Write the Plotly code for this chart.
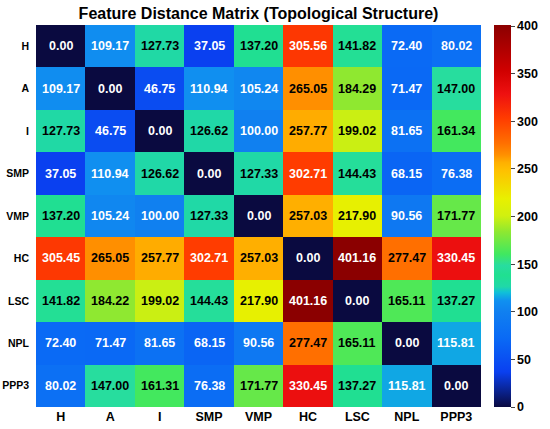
import plotly.graph_objects as go

labels = ["H", "A", "I", "SMP", "VMP", "HC", "LSC", "NPL", "PPP3"]

row_H = [0.00, 109.17, 127.73, 37.05, 137.20, 305.56, 141.82, 72.40, 80.02]
row_A = [109.17, 0.00, 46.75, 110.94, 105.24, 265.05, 184.29, 71.47, 147.00]
row_I = [127.73, 46.75, 0.00, 126.62, 100.00, 257.77, 199.02, 81.65, 161.34]
row_SMP = [37.05, 110.94, 126.62, 0.00, 127.33, 302.71, 144.43, 68.15, 76.38]
row_VMP = [137.20, 105.24, 100.00, 127.33, 0.00, 257.03, 217.90, 90.56, 171.77]
row_HC = [305.45, 265.05, 257.77, 302.71, 257.03, 0.00, 401.16, 277.47, 330.45]
row_LSC = [141.82, 184.22, 199.02, 144.43, 217.90, 401.16, 0.00, 165.11, 137.27]
row_NPL = [72.40, 71.47, 81.65, 68.15, 90.56, 277.47, 165.11, 0.00, 115.81]
row_PPP3 = [80.02, 147.00, 161.31, 76.38, 171.77, 330.45, 137.27, 115.81, 0.00]

z = [row_H, row_A, row_I, row_SMP, row_VMP, row_HC, row_LSC, row_NPL, row_PPP3]
zmax = max(max(r) for r in z)

# hand tuned jet-like scale (dark navy -> blue -> green -> yellow -> red -> dark red)
cscale = [
    [0.0, "#0a0a40"],
    [0.092, "#0a40f0"],
    [0.18, "#0a6af5"],
    [0.25, "#1080f0"],
    [0.278, "#1090f0"],
    [0.30, "#10c0d8"],
    [0.315, "#20d8a8"],
    [0.345, "#20e090"],
    [0.37, "#28dca0"],
    [0.40, "#40e860"],
    [0.46, "#90e830"],
    [0.50, "#d0f010"],
    [0.545, "#e8f000"],
    [0.62, "#ffc000"],
    [0.64, "#ffb000"],
    [0.66, "#ff9000"],
    [0.69, "#ff7000"],
    [0.755, "#ff3c00"],
    [0.82, "#ee1010"],
    [0.88, "#d00000"],
    [1.0, "#8b0000"],
]

bold12 = dict(family="Liberation Sans", size=12.5, color="black", weight="bold")
ybold = dict(family="Liberation Sans", size=10.5, color="black", weight="bold")

fig = go.Figure(go.Heatmap(
    z=z, x=labels, y=labels,
    zmin=0, zmax=zmax,
    colorscale=cscale,
    showscale=True,
    hoverinfo="skip",
    colorbar=dict(
        thickness=17, len=1, lenmode="fraction", y=0.5, yanchor="middle",
        x=1.029, xanchor="left", xpad=0, ypad=0,
        outlinewidth=0, ticks="outside", ticklen=4,
        tickvals=[0, 50, 100, 150, 200, 250, 300, 350, 400],
        tickfont=bold12,
    ),
))

for i, row in enumerate(z):
    for j, v in enumerate(row):
        col = "white" if (v < 120 or v > 290) else "black"
        fig.add_annotation(x=labels[j], y=labels[i], text=f"{v:.2f}", showarrow=False,
                           font=dict(family="Liberation Sans", size=12.5, color=col, weight="bold"))

fig.update_layout(
    width=550, height=429,
    margin=dict(l=36, r=66, t=25, b=22),
    paper_bgcolor="white", plot_bgcolor="white",
    title=dict(text="<b>Feature Distance Matrix (Topological Structure)</b>",
               x=0.5, xref="paper", xanchor="center", y=0.968, yanchor="middle",
               font=dict(family="Liberation Sans", size=16, color="black")),
    xaxis=dict(tickfont=bold12, ticks="", showgrid=False, automargin=False),
    yaxis=dict(autorange="reversed", tickfont=ybold, ticks="", showgrid=False,
               automargin=False, ticklabelstandoff=6),
)

# drop the default page margin so the figure sits at the window's corner
fig.write_html("out.html", config={"displayModeBar": False},
               post_script="document.body.style.margin='0px';")
